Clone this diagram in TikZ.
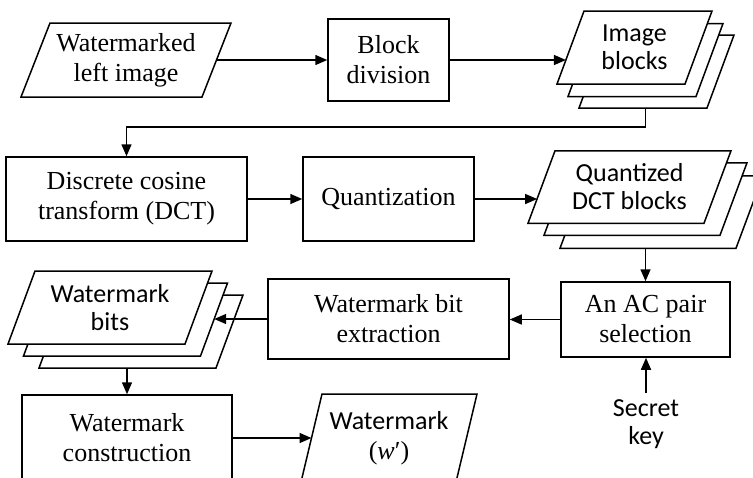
\documentclass[tikz,border=0pt]{standalone}
\usepackage{fontspec}
\setmainfont{Liberation Serif}
\newfontfamily\sansfont{Carlito}
\usetikzlibrary{arrows.meta,calc}

% slanted sheet: name, centre x, centre y, width, height, slant
\newcommand\slantsheet[6]{%
  \coordinate (#1-bl) at ({#2-#4/2},{#3+#5/2});
  \coordinate (#1-br) at ({#2+#4/2-#6},{#3+#5/2});
  \coordinate (#1-tr) at ({#2+#4/2},{#3-#5/2});
  \coordinate (#1-tl) at ({#2-#4/2+#6},{#3-#5/2});
  \draw[sheet] (#1-bl) -- (#1-br) -- (#1-tr) -- (#1-tl) -- cycle;}

\tikzset{
  serif/.style={font=\fontsize{13}{15}\selectfont, align=center},
  sans/.style={font=\sansfont\fontsize{13}{14}\selectfont, align=center},
  box/.style={draw, line width=0.75pt, fill=white, inner sep=0pt},
  sheet/.style={draw, line width=0.75pt, fill=white, line join=miter},
  arr/.style={line width=0.75pt, -{Triangle[length=6pt,width=5pt]}},
  link/.style={line width=0.75pt},
}

\begin{document}
\begin{tikzpicture}[x=0.5pt,y=-0.5pt]
  \useasboundingbox (0,0) rectangle (753,477);
  \fill[white] (0,0) rectangle (753,477);
  \clip (0,0) rectangle (753,477);

  % top row
  \slantsheet{L}{126}{60}{210}{74}{29}
  \node[serif] (Lt) at (126,60) {Watermarked\\left image};
  \node[box, serif, minimum width=60.5pt, minimum height=41pt] (B) at (388.5,60) {Block\\division};
  \slantsheet{I3}{656.5}{71.5}{155}{73}{27}
  \slantsheet{I2}{645.5}{60}{155}{73}{27}
  \slantsheet{I1}{634.5}{47.5}{155}{73}{27}
  \node[sans] (It) at (634.5,47.5) {Image\\blocks};

  % middle row
  \node[box, serif, minimum width=120.5pt, minimum height=42pt] (D) at (126.5,199) {Discrete cosine\\transform (DCT)};
  \node[box, serif, minimum width=85.5pt, minimum height=42pt] (Q) at (388.5,199) {Quantization};
  \slantsheet{QB3}{661.5}{212}{203}{72.5}{27}
  \slantsheet{QB2}{645.5}{199}{203}{72.5}{27}
  \slantsheet{QB1}{629.5}{187}{203}{72.5}{27}
  \node[sans] (QBt) at (629.5,187) {Quantized\\DCT blocks};

  % third row
  \node[box, serif, minimum width=84.5pt, minimum height=37.5pt] (AC) at (645.5,319.5) {An AC pair\\selection};
  \node[box, serif, minimum width=120.5pt, minimum height=40pt] (E) at (388.5,319) {Watermark bit\\extraction};
  \slantsheet{WB3}{141}{331.5}{204}{73}{27}
  \slantsheet{WB2}{125.5}{319.5}{204}{73}{27}
  \slantsheet{WB1}{110}{307.5}{204}{73}{27}
  \node[sans] (WBt) at (110,307.5) {Watermark\\bits};
  \node[sans, inner sep=3pt] (K) at (646,424) {Secret\\key};

  % bottom row
  \node[box, serif, minimum width=105pt, minimum height=43pt] (C) at (127,438) {Watermark\\construction};
  \slantsheet{W}{389}{438}{176}{88}{21}
  \node[serif] (Wt) at (389,438) {{\sansfont\fontsize{13}{14}\selectfont Watermark}\\(\textit{w}′)};

  % points where connectors meet slanted edges
  \coordinate (L-out) at ($(L-br)!0.5!(L-tr)$);
  \coordinate (I-in) at ($(I1-bl)!0.33!(I1-tl)$);
  \coordinate (QB-in) at ($(QB1-bl)!0.338!(QB1-tl)$);
  \coordinate (WB-in) at ($(WB2-br)!0.507!(WB2-tr)$);
  \coordinate (W-in) at ($(W-bl)!0.5!(W-tl)$);

  % connectors
  \draw[arr] (L-out) -- (B.west);
  \draw[arr] (B.east) -- (B.east -| I-in);
  \draw[arr] (I3-bl -| AC.north) -- ++(0,19) -| (D.north);
  \draw[arr] (D.east) -- (Q.west);
  \draw[arr] (Q.east) -- (Q.east -| QB-in);
  \draw[arr] (QB3-bl -| AC.north) -- (AC.north);
  \draw[arr] (AC.west) -- (AC.west -| E.east);
  \draw[arr] (E.west) -- (E.west -| WB-in);
  \draw[arr] (WB3-bl -| C.north) -- (C.north);
  \draw[arr] (C.east) -- (C.east -| W-in);
  \draw[arr] (K.north) -- (K.north |- AC.south);
\end{tikzpicture}
\end{document}
